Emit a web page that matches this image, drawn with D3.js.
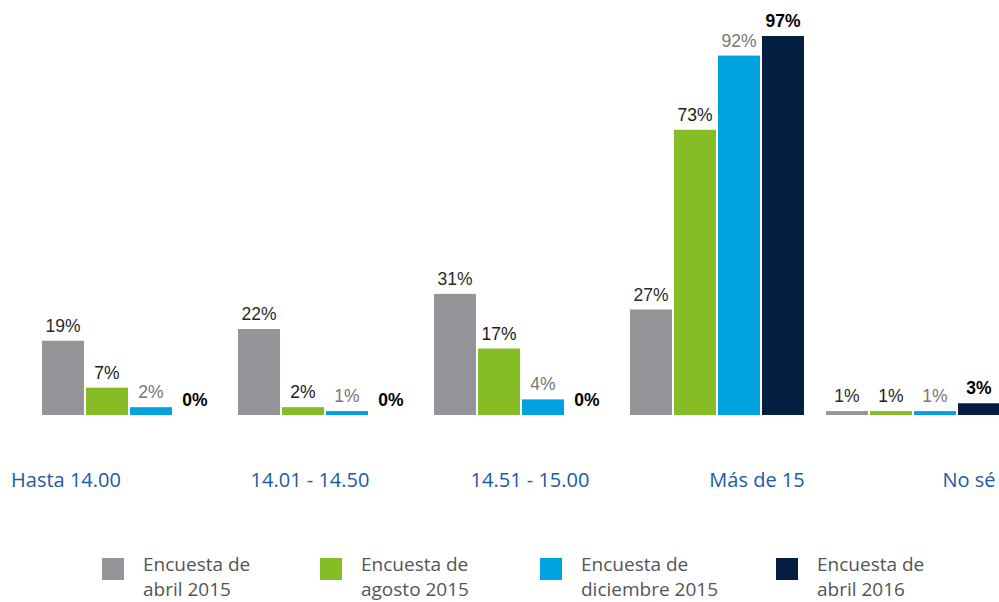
<!DOCTYPE html>
<html>
<head>
<meta charset="utf-8">
<script src="https://cdn.jsdelivr.net/npm/d3@7"></script>
<style>
  body { margin: 0; background: #fff; }
  svg { display: block; }
</style>
</head>
<body>
<svg id="chart" width="999" height="602"></svg>
<script>
// data
const categories = ['Hasta 14.00', '14.01 - 14.50', '14.51 - 15.00', 'Más de 15', 'No sé'];
const series = ['Encuesta de abril 2015', 'Encuesta de agosto 2015', 'Encuesta de diciembre 2015', 'Encuesta de abril 2016'];
const legendLines = [['Encuesta de', 'abril 2015'], ['Encuesta de', 'agosto 2015'], ['Encuesta de', 'diciembre 2015'], ['Encuesta de', 'abril 2016']];
const abril2015 = [19, 22, 31, 27, 1];
const agosto2015 = [7, 2, 17, 73, 1];
const diciembre2015 = [2, 1, 4, 92, 1];
const abril2016 = [0, 0, 0, 97, 3];

const values = [abril2015, agosto2015, diciembre2015, abril2016];

// styles
const colors = ['#939598', '#86bc25', '#00a3e0', '#041e42'];
const labelColors = ['#2a2a2a', '#1a1a1a', '#777', '#000'];
const labelWeights = ['normal', 'normal', 'normal', 'bold'];
// category label nudges (the original labels are not centred on groups)
const catShift = [-63, -15, 9, 40, 56];

const svg = d3.select('#chart');
const baseY = 415;

const x0 = d3.scaleBand()
  .domain(categories)
  .range([31, 1011])
  .paddingInner(22 / 196)
  .paddingOuter(11 / 196);

const x1 = d3.scaleBand()
  .domain(series)
  .range([0, x0.bandwidth()])
  .paddingInner(2 / 44);

const y = d3.scaleLinear()
  .domain([0, 100])
  .range([baseY, baseY - 390.7]);

// flatten to rows
let rows = [];
categories.forEach((c, i) => {
  series.forEach((s, j) => {
    rows.push({cat: c, ser: s, j: j, v: values[j][i]});
  });
});

const g = svg.append('g');

g.selectAll('rect.bar')
  .data(rows)
  .enter().append('rect')
  .attr('class', 'bar')
  .attr('x', d => x0(d.cat) + x1(d.ser))
  .attr('y', d => y(d.v))
  .attr('width', x1.bandwidth())
  .attr('height', d => baseY - y(d.v))
  .attr('fill', d => colors[d.j]);

g.selectAll('text.val')
  .data(rows)
  .enter().append('text')
  .attr('class', 'val')
  .attr('x', d => x0(d.cat) + x1(d.ser) + x1.bandwidth() / 2)
  .attr('y', d => y(d.v) - 9)
  .attr('text-anchor', 'middle')
  .attr('font-family', 'Liberation Sans, Arial, sans-serif')
  .attr('font-size', 17.5)
  .attr('font-weight', d => labelWeights[d.j])
  .attr('fill', d => labelColors[d.j])
  .text(d => d.v + '%');

// category labels
svg.selectAll('text.cat')
  .data(categories)
  .enter().append('text')
  .attr('class', 'cat')
  .attr('x', (d, i) => x0(d) + x0.bandwidth() / 2 + catShift[i])
  .attr('y', 487)
  .attr('text-anchor', 'middle')
  .attr('font-family', 'Open Sans, sans-serif')
  .attr('font-size', 20)
  .attr('fill', '#1b5aa5')
  .text(d => d);

// legend
const legendX = [102, 320, 540, 776];
const lg = svg.selectAll('g.leg')
  .data(series)
  .enter().append('g')
  .attr('class', 'leg')
  .attr('transform', (d, i) => 'translate(' + legendX[i] + ',558)');

lg.append('rect')
  .attr('width', 22)
  .attr('height', 22)
  .attr('fill', (d, i) => colors[i]);

lg.each(function(d, i) {
  const t = d3.select(this).append('text')
    .attr('font-family', 'Open Sans, sans-serif')
    .attr('font-size', 19)
    .attr('fill', '#555');
  legendLines[i].forEach((line, k) => {
    t.append('tspan')
      .attr('x', 41)
      .attr('y', 13 + k * 25)
      .text(line);
  });
});
</script>
</body>
</html>
